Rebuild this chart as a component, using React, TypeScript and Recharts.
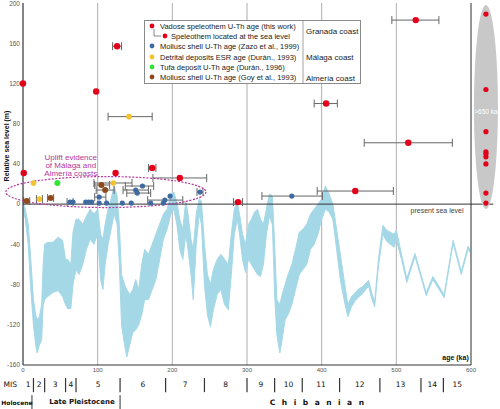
import React from 'react'
import {
  ComposedChart,
  Area,
  Scatter,
  XAxis,
  YAxis,
  CartesianGrid,
  ErrorBar,
  ReferenceLine,
  ReferenceDot,
  Legend,
} from 'recharts'

// sea level band, age in ka, lower / upper limit in m
const bandAge = [0,3,7,10,14,17,19,22,25,27,29,33,40,47,53,57,60,64,67,71,75,80,85,90,95,100,104,107,110,114,118,122,126,129,132,136,139,143,147,151,155,159,163,168,173,178,183,188,193,198,202,206,210,214,218,221,225,228,232,236,239,243,247,251,255,260,265,270,275,279,283,287,290,294,298,302,306,310,314,318,322,326,330,334,337,340,344,347,351,355,360,365,370,375,380,385,390,395,400,405,410,415,420,425,430,435,440,445,450,455,460,463,467,471,476,482,487,492,497,500,507,514,525,540,549,564,576,587,596,600]
const bandHigh = [2,-5,-20,-50,-95,-110,-115,-112,-100,-60,-40,-38,-38,-33,-36,-55,-55,-60,-28,-15,-15,-20,-12,-5,-10,-5,-30,-35,-20,-5,5,18,8,-20,-70,-80,-85,-90,-85,-75,-85,-60,-45,-50,-40,-30,-20,-10,-5,10,12,2,-15,-25,3,-10,-35,-45,-10,5,3,-40,-70,-80,-65,-55,-50,-55,-60,-30,-5,2,-10,-30,-40,-20,-15,-8,-5,-15,-20,-5,10,8,-40,-95,-100,-90,-80,-70,-60,-45,-28,-25,-20,-10,-5,0,5,18,10,0,-25,-50,-75,-100,-92,-88,-84,-82,-78,-76,-88,-97,-55,-21,-26,-28,-30,-26,-50,-74,-49,-88,-72,-90,-36,-67,-42,-46]
const bandLow = [-4,-15,-40,-80,-120,-140,-148,-140,-135,-100,-95,-92,-88,-86,-92,-100,-104,-104,-80,-65,-70,-60,-45,-35,-40,-30,-75,-85,-60,-40,-25,-10,-20,-60,-120,-140,-152,-140,-128,-125,-120,-110,-95,-95,-85,-75,-55,-35,-25,-10,-5,-20,-45,-55,-30,-45,-70,-95,-40,-10,-20,-80,-110,-122,-105,-90,-85,-100,-105,-70,-30,-15,-30,-55,-68,-55,-60,-65,-70,-72,-60,-30,-12,-20,-90,-130,-148,-135,-115,-110,-100,-85,-70,-65,-60,-45,-40,-30,-15,-5,-8,-15,-45,-75,-95,-112,-102,-96,-92,-89,-84,-82,-94,-102,-62,-30,-37,-40,-43,-36,-55,-78,-52,-91,-75,-93,-39,-70,-45,-49]

// dated points: [age ka, level m, age error minus, age error plus]
const vadoseSpeleo = [[0,120],[1,31],[98,112],[126,157,6,6],[124,31],[173,36,5,5],[210,26,36,36],[406,100,16,15],[445,13,51,51],[516,61,59,59],[526,183,32,31]]
const seaLevelSpeleo = [[288,2,6,6]]
const zazoMollusc = [[63,2,4,4],[67,2],[84,2],[88,2],[92,2],[102,7,6,9],[102,1],[112,1],[133,1],[145,1],[151,14,17,17],[153,11,14,18],[160,18,23,15],[171,1],[188,1],[190,4,23,24],[197,8],[237,12,4,4],[360,8,40,41]]
const duranDetrital = [[14,21],[22,5,4,4],[121,21,26,25],[142,87,28,31]]
const duranTufa = [[46,21]]
const goyMollusc = [[5,3,4,4],[37,6,4,4],[105,19,9,11],[110,14,12,12]]

// speleothems older than 650 ka, levels in m
const olderAge = 620
const olderLevels = [189,114,72,52,50,47,40,11,1]

// marine isotope stages
const misBounds = [14,29,57,71,130,191,243,300,337,374,424,478,533,563]
const misLabels = ['1','2','3','4','5','6','7','8','9','10','11','12','13','14','15']
const epochBounds = [12,130]

const xTicks = [0,100,200,300,400,500,600]
const yTicks = [-160,-120,-80,-40,0,40,80,120,160,200]

const RED = '#e3001b'
const BLUE = '#3f6aa2'
const YELLOW = '#f3c22c'
const GREEN = '#33e533'
const BROWN = '#8c4a1d'
const MAGENTA = '#b5379c'
const SANS = 'Liberation Sans, Arial, sans-serif'
const VERD = 'DejaVu Sans, Verdana, sans-serif'

const bandData = bandAge.map((x, i) => ({ x, band: [bandLow[i], bandHigh[i]] }))

const toRows = (pts: number[][]) =>
  pts.map(([x, y, lo, hi]) => ({ x, y, err: lo != null ? [lo, hi] : undefined }))

const dot = (color: string, r: number) => (p: any) =>
  <circle cx={p.cx} cy={p.cy} r={r} fill={color} />

const label = (text: string, opts: any = {}) => (p: any) => (
  <text
    x={p.cx}
    y={p.cy}
    fontFamily={opts.font || SANS}
    fontSize={opts.size || 7.5}
    fontWeight={opts.weight || 'normal'}
    fill={opts.color || '#222'}
    textAnchor={opts.anchor || 'middle'}
    dominantBaseline="central"
    letterSpacing={opts.spacing || 0}
  >
    {text}
  </text>
)

const legendRows = [
  { color: RED, text: 'Vadose speleothem U-Th age (this work)', y: 6 },
  { color: RED, text: 'Speleothem located at the sea level', y: 16, sub: true },
  { color: BLUE, text: 'Mollusc shell U-Th age (Zazo et al., 1999)', y: 26 },
  { color: YELLOW, text: 'Detrital deposits ESR age (Durán., 1993)', y: 37 },
  { color: GREEN, text: 'Tufa deposit U-Th age (Durán., 1996)', y: 47 },
  { color: BROWN, text: 'Mollusc shell U-Th age (Goy et al., 1993)', y: 57 },
]
const coastRows = [
  { text: 'Granada coast', y: 11 },
  { text: 'Málaga coast', y: 37 },
  { text: 'Almería coast', y: 58 },
]

function LegendBox() {
  return (
    <svg width={217} height={64} style={{ display: 'block' }}>
      <rect x={0.5} y={0.5} width={216} height={63} fill="#fff" stroke="#8a8a8a" />
      <line x1={159} y1={1} x2={159} y2={63} stroke="#8a8a8a" strokeWidth={0.8} />
      {legendRows.map((r) => (
        <g key={r.text}>
          {r.sub && (
            <path d={`M10 9 V${r.y} H17`} fill="none" stroke="#555" strokeWidth={0.7} />
          )}
          <circle cx={r.sub ? 21 : 8} cy={r.y} r={2.4} fill={r.color} />
          <text
            x={r.sub ? 27 : 16}
            y={r.y}
            dominantBaseline="central"
            fontFamily={SANS}
            fontSize={7.5}
            fill="#222"
          >
            {r.text}
          </text>
        </g>
      ))}
      {coastRows.map((r) => (
        <text key={r.text} x={162} y={r.y} dominantBaseline="central" fontFamily={SANS} fontSize={8} fill="#222">
          {r.text}
        </text>
      ))}
    </svg>
  )
}

const misMids = misLabels.map((_, i) => {
  const a = i === 0 ? 0 : misBounds[i - 1]
  const b = i < misBounds.length ? misBounds[i] : 600
  return (a + b) / 2
})

export default function App() {
  return (
    <div style={{ position: 'absolute', left: 0, top: 0, width: 500, height: 409, background: '#fff' }}>
      <ComposedChart
        width={500}
        height={409}
        data={bandData}
        margin={{ top: 3, right: 29, bottom: 34, left: 3 }}
      >
        <Area
          type="linear"
          dataKey="band"
          fill="#a5d8e7"
          fillOpacity={1}
          stroke="#a5d8e7"
          strokeWidth={1}
          isAnimationActive={false}
        />
        <CartesianGrid horizontal={false} stroke="#9a9a9a" strokeWidth={0.8} />
        <XAxis
          type="number"
          dataKey="x"
          domain={[0, 600]}
          ticks={xTicks}
          height={10}
          tickSize={0}
          tickMargin={3}
          tickLine={false}
          axisLine={{ stroke: '#333' }}
          tick={{ fontSize: 6, fill: '#555', fontFamily: SANS }}
        />
        <YAxis
          type="number"
          domain={[-160, 200]}
          ticks={yTicks}
          width={20}
          tickSize={0}
          tickMargin={3}
          tickLine={false}
          axisLine={{ stroke: '#333' }}
          tick={{ fontSize: 6.5, fill: '#555', fontFamily: SANS }}
          label={{
            content: (p: any) => {
              const { x, y } = p.viewBox
              return (
                <text
                  transform={`translate(${x + 3},${y + 143}) rotate(-90)`}
                  textAnchor="middle"
                  dominantBaseline="central"
                  fontFamily={SANS}
                  fontSize={7}
                  fontWeight="bold"
                  fill="#111"
                >
                  Relative sea level (m)
                </text>
              )
            },
          }}
        />
        <ReferenceLine x={600} stroke="#555" strokeWidth={1} ifOverflow="visible" />
        <ReferenceLine
          segment={[{ x: 0, y: 0 }, { x: 630, y: 0 }]}
          stroke="#333"
          strokeWidth={1}
          ifOverflow="visible"
        />
        <ReferenceDot x={590} y={-6} ifOverflow="visible" shape={label('present sea level', { anchor: 'end', size: 7, color: '#444' })} />
        <ReferenceDot x={597} y={-153} ifOverflow="visible" shape={label('age (ka)', { anchor: 'end', size: 7, weight: 'bold', color: '#111' })} />

        {/* uplift evidence */}
        <ReferenceDot
          x={111}
          y={12}
          ifOverflow="visible"
          shape={(p: any) => (
            <ellipse cx={p.cx} cy={p.cy} rx={100} ry={15.5} fill="none" stroke={MAGENTA} strokeWidth={1.2} strokeDasharray="2 1.5" />
          )}
        />
        <ReferenceDot x={64} y={46.5} ifOverflow="visible" shape={label('Uplift evidence', { color: MAGENTA, size: 8 })} />
        <ReferenceDot x={64} y={38.5} ifOverflow="visible" shape={label('of Málaga and', { color: MAGENTA, size: 8 })} />
        <ReferenceDot x={64} y={30.5} ifOverflow="visible" shape={label('Almería coasts', { color: MAGENTA, size: 8 })} />

        {/* older than 650 ka */}
        <ReferenceDot
          x={olderAge}
          y={96.5}
          ifOverflow="visible"
          shape={(p: any) => <ellipse cx={p.cx} cy={p.cy} rx={12} ry={102} fill="#c8c8c8" />}
        />
        <ReferenceDot x={olderAge} y={92.5} ifOverflow="visible" shape={label('>650 ka', { color: '#fff', size: 6.5 })} />
        {olderLevels.map((v, i) => (
          <ReferenceDot key={'o' + i} x={olderAge} y={v} r={2.6} fill={RED} stroke="none" ifOverflow="visible" />
        ))}

        <Scatter data={toRows(goyMollusc)} dataKey="y" shape={dot(BROWN, 3)} isAnimationActive={false}>
          <ErrorBar dataKey="err" direction="x" width={4} stroke="#666" strokeWidth={1} />
        </Scatter>
        <Scatter data={toRows(duranTufa)} dataKey="y" shape={dot(GREEN, 3)} isAnimationActive={false} />
        <Scatter data={toRows(duranDetrital)} dataKey="y" shape={dot(YELLOW, 2.8)} isAnimationActive={false}>
          <ErrorBar dataKey="err" direction="x" width={4} stroke="#666" strokeWidth={1} />
        </Scatter>
        <Scatter data={toRows(zazoMollusc)} dataKey="y" shape={dot(BLUE, 2.6)} isAnimationActive={false}>
          <ErrorBar dataKey="err" direction="x" width={4} stroke="#666" strokeWidth={1} />
        </Scatter>
        <Scatter data={toRows(seaLevelSpeleo)} dataKey="y" shape={dot(RED, 3.2)} isAnimationActive={false}>
          <ErrorBar dataKey="err" direction="x" width={4} stroke="#666" strokeWidth={1} />
        </Scatter>
        <Scatter data={toRows(vadoseSpeleo)} dataKey="y" shape={dot(RED, 3.2)} isAnimationActive={false}>
          <ErrorBar dataKey="err" direction="x" width={4} stroke="#666" strokeWidth={1} />
        </Scatter>

        {/* MIS row */}
        <ReferenceDot x={-17} y={-179} ifOverflow="visible" shape={label('MIS', { font: VERD, size: 7.5, color: '#111' })} />
        {misLabels.map((m, i) => (
          <ReferenceDot key={'m' + m} x={misMids[i]} y={-179} ifOverflow="visible" shape={label(m, { font: VERD, size: 7.5, color: '#111' })} />
        ))}
        {misBounds.map((b) => (
          <ReferenceLine
            key={'b' + b}
            segment={[{ x: b, y: -173 }, { x: b, y: -187 }]}
            stroke="#333"
            strokeWidth={1.2}
            ifOverflow="visible"
          />
        ))}
        {epochBounds.map((b) => (
          <ReferenceLine
            key={'e' + b}
            segment={[{ x: b, y: -190 }, { x: b, y: -204 }]}
            stroke="#333"
            strokeWidth={1}
            ifOverflow="visible"
          />
        ))}
        <ReferenceDot x={-29} y={-197} ifOverflow="visible" shape={label('Holocene', { font: VERD, size: 6, weight: 'bold', anchor: 'start', color: '#111' })} />
        <ReferenceDot x={79} y={-197} ifOverflow="visible" shape={label('Late Pleistocene', { font: VERD, size: 7, weight: 'bold', color: '#111' })} />
        <ReferenceDot x={398} y={-197} ifOverflow="visible" shape={label('Chibanian', { font: VERD, size: 7.5, weight: 'bold', color: '#111', spacing: 6.5 })} />

        <Legend
          layout="horizontal"
          verticalAlign="middle"
          align="center"
          content={() => <LegendBox />}
          wrapperStyle={{ left: 144, top: 20, width: 217, height: 64 }}
        />
      </ComposedChart>
    </div>
  )
}
